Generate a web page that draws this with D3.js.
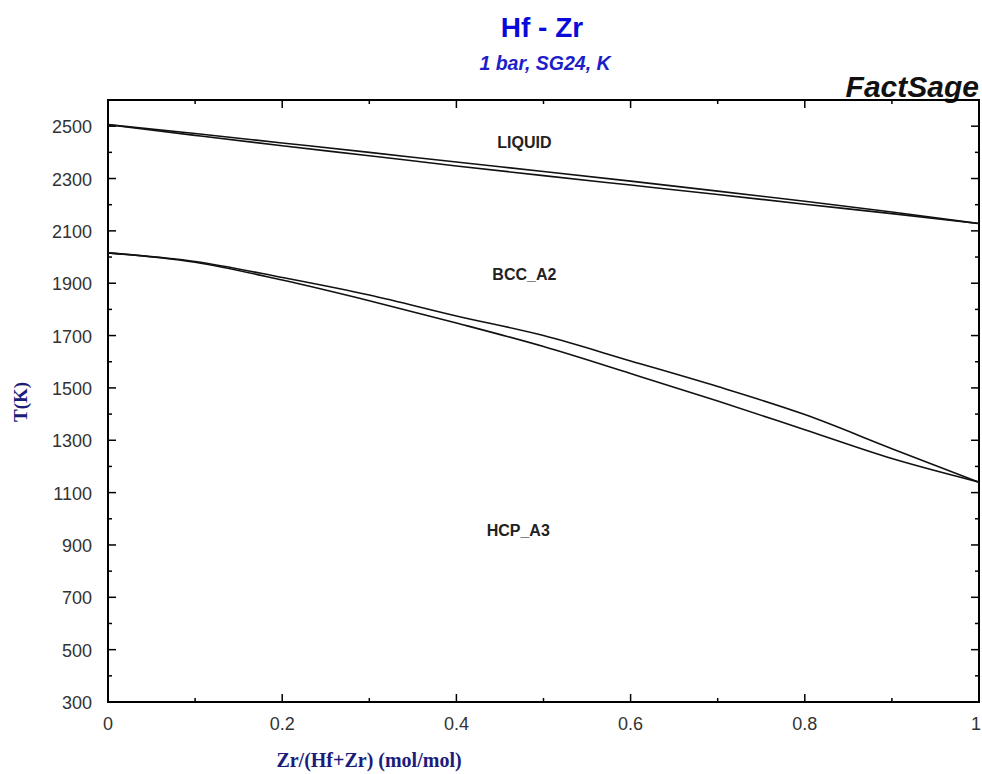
<!DOCTYPE html>
<html>
<head>
<meta charset="utf-8">
<script src="https://cdn.jsdelivr.net/npm/d3@7/dist/d3.min.js"></script>
<style>
  html, body { margin: 0; padding: 0; background: #fff; }
  svg { display: block; }
</style>
</head>
<body>
<svg id="chart" width="982" height="774"></svg>
<script>
// ---- data ----
const xGrid = [0, 0.1, 0.2, 0.3, 0.4, 0.5, 0.6, 0.7, 0.8, 0.9, 1.0];
const liquidus = [2506, 2472, 2436, 2400, 2363, 2327, 2290, 2252, 2213, 2172, 2128];
const solidus  = [2506, 2465, 2425, 2387, 2348, 2311, 2275, 2239, 2202, 2166, 2128];
const bccTransus = [2016, 1983, 1922, 1855, 1775, 1700, 1603, 1505, 1398, 1268, 1140];
const hcpTransus = [2016, 1980, 1912, 1833, 1748, 1658, 1555, 1450, 1340, 1230, 1140];
const xTicks = [0, 0.2, 0.4, 0.6, 0.8, 1];
const xTickLabels = ["0", "0.2", "0.4", "0.6", "0.8", "1"];
const yTicks = [300, 500, 700, 900, 1100, 1300, 1500, 1700, 1900, 2100, 2300, 2500];
const phaseLabels = [
  { name: "LIQUID", x: 0.478, T: 2416 },
  { name: "BCC_A2", x: 0.478, T: 1912 },
  { name: "HCP_A3", x: 0.471, T: 934 }
];

// ---- layout ----
const svg = d3.select("#chart");
const L = 108, R = 979, T = 100, B = 702;
const x = d3.scaleLinear().domain([0, 1]).range([L, R]);
const y = d3.scaleLinear().domain([300, 2600]).range([B, T]);
const sans = "Liberation Sans, Arial, sans-serif";
const serif = "Liberation Serif, Times New Roman, serif";

// titles
svg.append("text").attr("x", 542).attr("y", 37).attr("text-anchor", "middle")
  .attr("font-family", sans).attr("font-weight", "bold")
  .attr("font-size", 28).attr("fill", "#0a0ad8").text("Hf - Zr");
svg.append("text").attr("x", 545).attr("y", 70).attr("text-anchor", "middle")
  .attr("font-family", sans).attr("font-weight", "bold")
  .attr("font-style", "italic").attr("font-size", 19.5).attr("fill", "#1e1ec8").text("1 bar, SG24, K");
svg.append("text").attr("x", 979).attr("y", 97).attr("text-anchor", "end")
  .attr("font-family", sans).attr("font-weight", "bold")
  .attr("font-style", "italic").attr("font-size", 30).attr("fill", "#111").text("FactSage");

// ticks (inward), all four sides
const g = svg.append("g");
const xMinor = d3.range(0, 1.0001, 0.1);
const yMinor = d3.range(300, 2601, 100);
const tk = (v, arr) => arr.some(a => Math.abs(a - v) < 1e-6);
xMinor.forEach(v => {
  const len = tk(v, xTicks) ? 8 : 4;
  g.append("line").attr("x1", x(v)).attr("x2", x(v)).attr("y1", B).attr("y2", B - len).attr("stroke", "#000").attr("stroke-width", 1.5);
  g.append("line").attr("x1", x(v)).attr("x2", x(v)).attr("y1", T).attr("y2", T + len).attr("stroke", "#000").attr("stroke-width", 1.5);
});
yMinor.forEach(v => {
  const len = tk(v, yTicks) ? 8 : 4;
  g.append("line").attr("x1", L).attr("x2", L + len).attr("y1", y(v)).attr("y2", y(v)).attr("stroke", "#000").attr("stroke-width", 1.5);
  g.append("line").attr("x1", R).attr("x2", R - len).attr("y1", y(v)).attr("y2", y(v)).attr("stroke", "#000").attr("stroke-width", 1.5);
});

// frame
svg.append("rect").attr("x", L).attr("y", T).attr("width", R - L).attr("height", B - T)
  .attr("fill", "none").attr("stroke", "#000").attr("stroke-width", 2);

// tick labels
xTicks.forEach((v, i) => {
  const last = i === xTicks.length - 1;
  svg.append("text").attr("x", last ? 981 : x(v)).attr("y", 730)
    .attr("text-anchor", last ? "end" : "middle")
    .attr("font-family", sans).attr("font-size", 18).attr("fill", "#333").text(xTickLabels[i]);
});
yTicks.forEach(v => {
  svg.append("text").attr("x", 92).attr("y", y(v) + 7).attr("text-anchor", "end")
    .attr("font-family", sans).attr("font-size", 18).attr("fill", "#333").text(v);
});

// axis titles
svg.append("text").attr("x", 369).attr("y", 767).attr("text-anchor", "middle")
  .attr("font-family", serif).attr("font-weight", "bold")
  .attr("font-size", 20).attr("fill", "#1c1c7a").text("Zr/(Hf+Zr) (mol/mol)");
svg.append("text").attr("transform", "translate(27,402) rotate(-90)").attr("text-anchor", "middle")
  .attr("font-family", serif).attr("font-weight", "bold")
  .attr("font-size", 19).attr("fill", "#1c1c7a").text("T(K)");

// curves
const line = d3.line().x(d => x(d[0])).y(d => y(d[1])).curve(d3.curveMonotoneX);
[liquidus, solidus, bccTransus, hcpTransus].forEach(arr => {
  svg.append("path").datum(xGrid.map((xv, i) => [xv, arr[i]]))
    .attr("d", line).attr("fill", "none").attr("stroke", "#111").attr("stroke-width", 1.6);
});

// phase labels
phaseLabels.forEach(p => {
  svg.append("text").attr("x", x(p.x)).attr("y", y(p.T)).attr("text-anchor", "middle")
    .attr("font-family", sans).attr("font-weight", "bold")
    .attr("font-size", 16).attr("fill", "#222").text(p.name);
});
</script>
</body>
</html>
